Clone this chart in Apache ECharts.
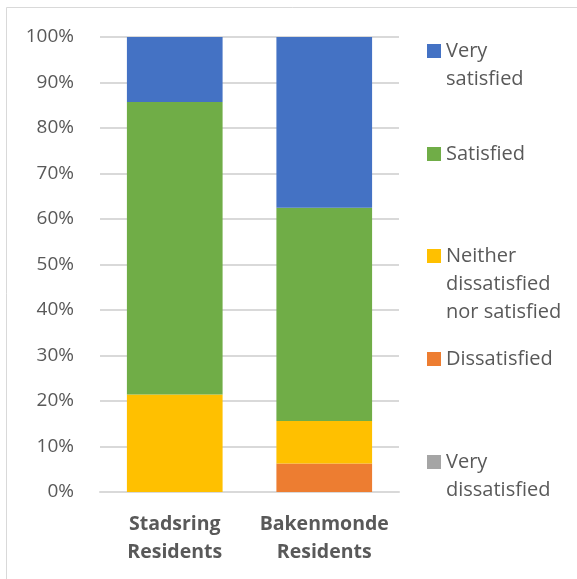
<!DOCTYPE html>
<html>
<head>
<meta charset="utf-8">
<script src="https://cdn.jsdelivr.net/npm/echarts@6/dist/echarts.min.js"></script>
<style>
  html, body { margin: 0; padding: 0; background: #fff; }
  #chart { width: 577px; height: 579px; }
</style>
</head>
<body>
<div id="chart"></div>
<script>
// Survey satisfaction shares per resident group (percent)
const categories = ['Stadsring\nResidents', 'Bakenmonde\nResidents'];
const seriesNames = ['Very dissatisfied', 'Dissatisfied', 'Neither dissatisfied nor satisfied', 'Satisfied', 'Very satisfied'];
const veryDissatisfied = [0, 0];
const dissatisfied = [0, 6.25];
const neither = [21.43, 9.375];
const satisfied = [64.29, 46.875];
const verySatisfied = [14.28, 37.5];
const yTicks = [0, 10, 20, 30, 40, 50, 60, 70, 80, 90, 100];

const colors = ['#a5a5a5', '#ed7d31', '#ffc000', '#70ad47', '#4472c4'];
const values = [veryDissatisfied, dissatisfied, neither, satisfied, verySatisfied];
const legendLabels = ['Very\ndissatisfied', 'Dissatisfied', 'Neither\ndissatisfied\nnor satisfied', 'Satisfied', 'Very\nsatisfied'];
// vertical centre of each legend marker
const legendCentres = [461, 358, 255, 153, 50];
const FONT = 'Open Sans';
const TEXT = '#595959';
const LINE = 28;

const series = seriesNames.map((name, i) => ({
  name: name,
  type: 'bar',
  stack: 'total',
  barWidth: '64%',
  itemStyle: { color: colors[i] },
  data: values[i]
}));

// One legend block per entry so the entries sit on an even vertical rhythm.
// The label block is centred on its marker, so wrapped names get leading
// blank lines to bring their first line level with the marker.
const legends = seriesNames.map((name, i) => {
  const lines = legendLabels[i].split('\n').length;
  const label = '\n'.repeat(lines - 1) + legendLabels[i];
  const total = 2 * lines - 1;
  return {
    orient: 'vertical',
    left: 427,
    top: legendCentres[i] - (total * LINE) / 2 + 1,
    padding: 0,
    itemWidth: 14,
    itemHeight: 14,
    itemGap: 0,
    icon: 'rect',
    selectedMode: false,
    data: [name],
    formatter: () => label,
    textStyle: {
      fontFamily: FONT,
      fontSize: 20,
      color: TEXT,
      lineHeight: LINE
    }
  };
});

const chart = echarts.init(document.getElementById('chart'), null, { renderer: 'canvas' });
chart.setOption({
  animation: false,
  backgroundColor: '#ffffff',
  grid: { left: 100, right: 178, top: 37, bottom: 87, containLabel: false },
  xAxis: {
    type: 'category',
    data: categories,
    axisTick: { show: false },
    axisLine: { show: true, lineStyle: { color: '#d9d9d9', width: 2 } },
    axisLabel: {
      interval: 0,
      fontFamily: FONT,
      fontSize: 19.5,
      fontWeight: 'bold',
      color: TEXT,
      lineHeight: LINE,
      margin: 18
    }
  },
  yAxis: {
    type: 'value',
    min: yTicks[0],
    max: yTicks[yTicks.length - 1],
    interval: yTicks[1] - yTicks[0],
    axisLine: { show: false },
    axisTick: { show: false },
    splitLine: { lineStyle: { color: '#d9d9d9', width: 2 } },
    axisLabel: {
      formatter: '{value}%',
      fontFamily: FONT,
      fontSize: 19,
      color: TEXT,
      margin: 26
    }
  },
  legend: legends,
  series: series,
  graphic: [{
    type: 'rect',
    shape: { x: 6.5, y: 7.5, width: 700, height: 700 },
    style: { fill: 'none', stroke: '#d9d9d9', lineWidth: 1 },
    silent: true,
    z: -1
  }]
});
</script>
</body>
</html>
